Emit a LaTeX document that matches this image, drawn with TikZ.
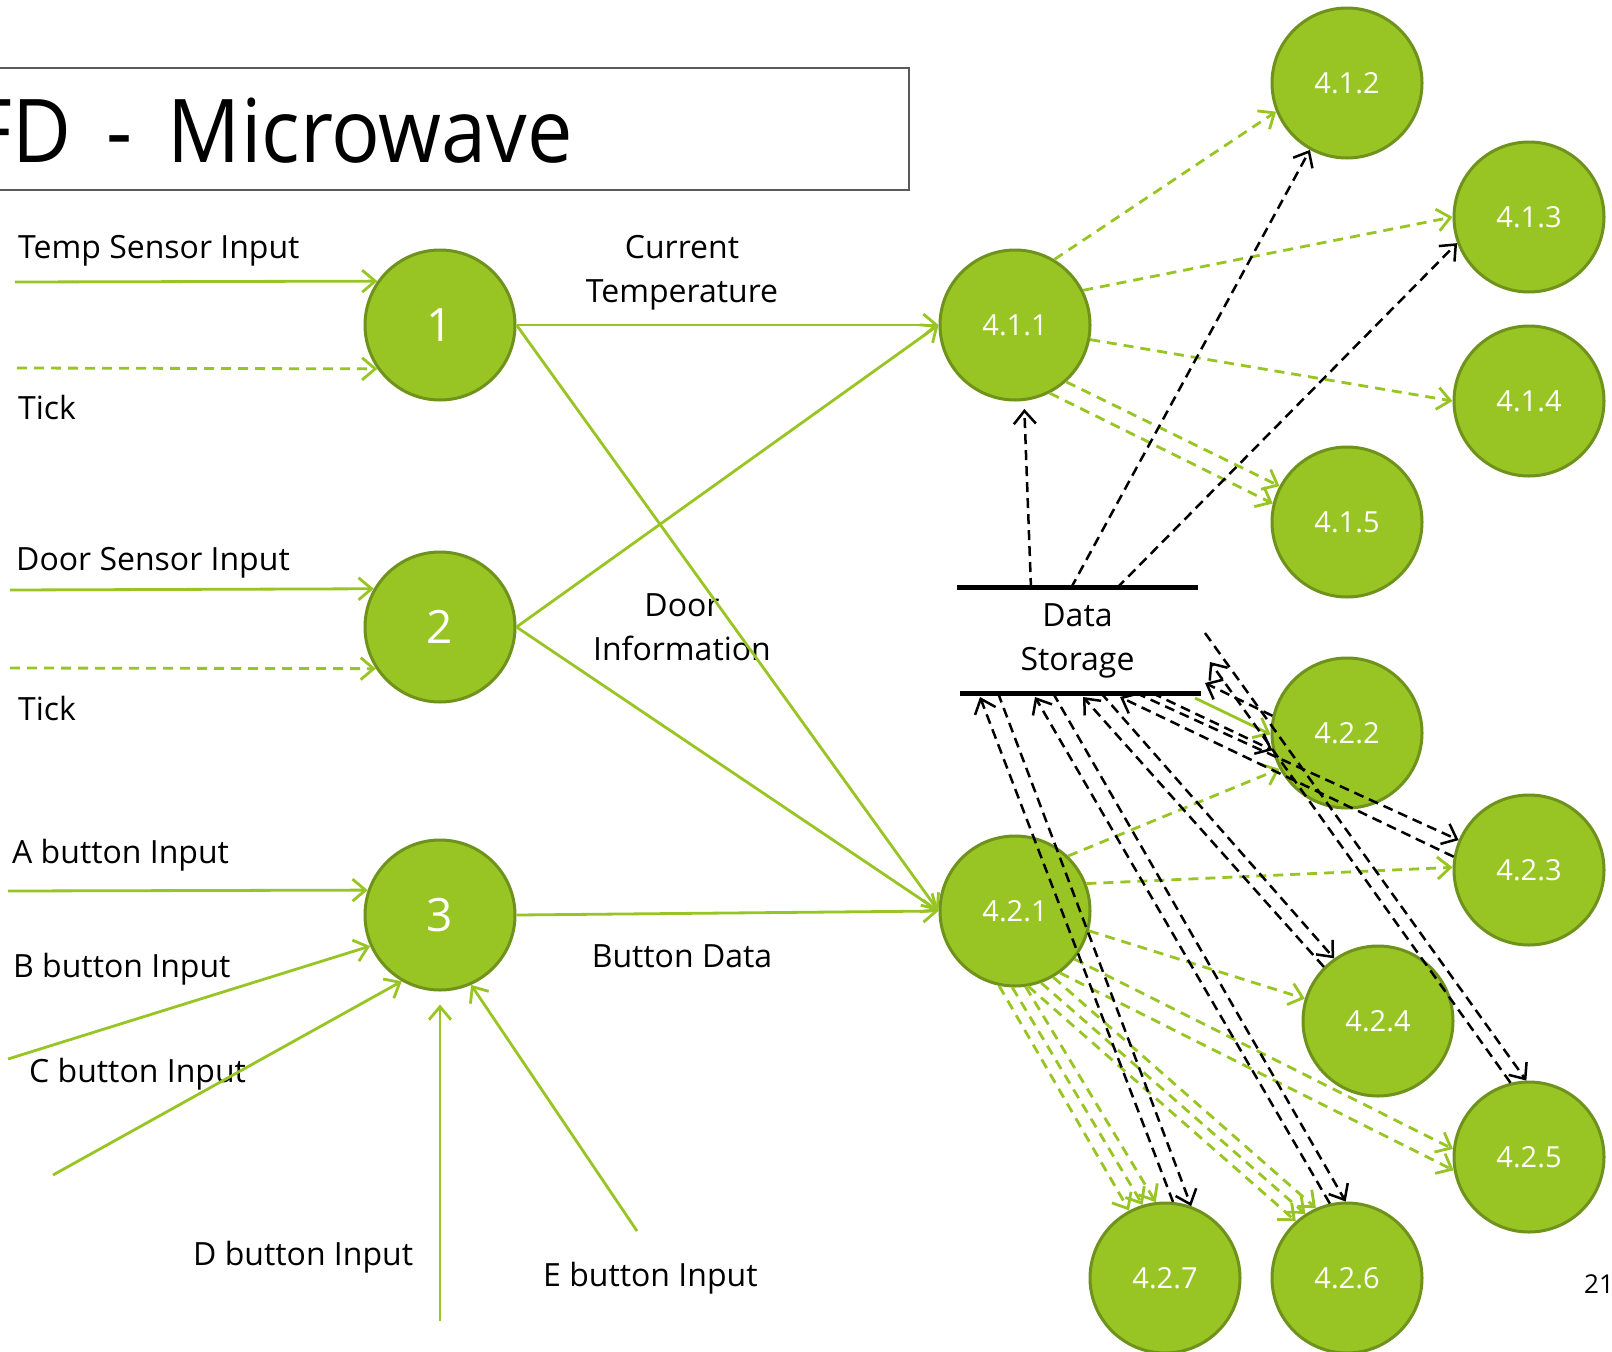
\documentclass[tikz,border=0pt]{standalone}
\usepackage{fontspec}
\setmainfont{Open Sans}
\newfontfamily\titlefont[FakeStretch=0.92]{Open Sans}
\usetikzlibrary{arrows.meta}
\definecolor{leaf}{RGB}{152,197,35}
\definecolor{leafdark}{RGB}{110,146,28}
\definecolor{framegray}{RGB}{90,90,90}
\begin{document}
\begin{tikzpicture}[x=1pt,y=-1pt,
  proc/.style={circle,draw=leafdark,fill=leaf,line width=3pt,minimum size=150pt,inner sep=0pt,text=white},
  numfont/.style={font=\fontsize{46}{50}\selectfont},
  subfont/.style={font=\fontsize{29}{34}\selectfont},
  lbl/.style={font=\fontsize{32}{44}\selectfont,text=black,inner sep=0pt},
  opentip/.style={-{Straight Barb[length=13pt,width=22pt]}},
  flow/.style={draw=leaf,line width=2.8pt,opentip},
  gdash/.style={flow,dash pattern=on 10pt off 7pt},
  bdash/.style={draw=black,line width=2.5pt,dash pattern=on 10pt off 6pt,opentip},
]
\fill[white] (0,0) rectangle (1612,1352);
\useasboundingbox (0,0) rectangle (1612,1352);

% title frame
\draw[framegray,line width=2pt] (-10,68) rectangle (909,190);
\node[anchor=base east,inner sep=0pt,font=\titlefont\fontsize{88}{100}\selectfont] (title) at (573,162)
  {\spaceskip=0.40em\relax DFD - Microwave};

% processes
\node[proc,numfont] (p1) at (440,325) {1};
\node[proc,numfont] (p2) at (440,627) {2};
\node[proc,numfont] (p3) at (440,915) {3};
\node[proc,subfont] (p411) at (1015,325) {4.1.1};
\node[proc,subfont] (p412) at (1347,83) {4.1.2};
\node[proc,subfont] (p413) at (1529,217) {4.1.3};
\node[proc,subfont] (p414) at (1529,401) {4.1.4};
\node[proc,subfont] (p415) at (1347,522) {4.1.5};
\node[proc,subfont] (p421) at (1015,911) {4.2.1};
\node[proc,subfont] (p422) at (1347,733) {4.2.2};
\node[proc,subfont] (p423) at (1529,870) {4.2.3};
\node[proc,subfont] (p424) at (1378,1021) {4.2.4};
\node[proc,subfont] (p425) at (1529,1157) {4.2.5};
\node[proc,subfont] (p426) at (1347,1278) {4.2.6};
\node[proc,subfont] (p427) at (1165,1278) {4.2.7};

% data store
\node[lbl,align=center,minimum width=241pt,minimum height=105pt] (ds) at (1077.5,640.5) {Data\\Storage};
\draw[line width=5pt] (ds.north west) -- (ds.north east);
\draw[line width=5pt] ([xshift=3pt]ds.south west) -- ([xshift=3pt]ds.south east);

% flow labels
\node[lbl,anchor=base west] (lTemp) at (18,258) {Temp Sensor Input};
\node[lbl,anchor=base west] (lTick1) at (18,419) {Tick};
\node[lbl,anchor=base west] (lDoor) at (16,570) {Door Sensor Input};
\node[lbl,anchor=base west] (lTick2) at (18,720) {Tick};
\node[lbl,anchor=base west] (lA) at (12,863) {A button Input};
\node[lbl,anchor=base west] (lB) at (13,977) {B button Input};
\node[lbl,anchor=base west] (lC) at (29,1082) {C button Input};
\node[lbl,anchor=base west] (lD) at (193,1265) {D button Input};
\node[lbl,anchor=base west] (lE) at (543,1286) {E button Input};
\node[lbl,align=center] (lCur) at (682,273) {Current\\Temperature};
\node[lbl,align=center] (lDI) at (682,627) {Door\\Information};
\node[lbl,anchor=base] (lBD) at (682,967) {Button Data};
\node[anchor=base west,inner sep=0pt,font=\fontsize{26}{30}\selectfont] (page) at (1584,1293) {21};

% external inputs
\coordinate (inTemp) at (15,282);
\coordinate (inTick1) at (17,368);
\coordinate (inDoor) at (10,590);
\coordinate (inTick2) at (10,668);
\coordinate (inA) at (8,891);
\coordinate (inB) at (8,1059);
\coordinate (inC) at (53,1175);
\coordinate (inD) at (440,1321);
\coordinate (inE) at (637,1231);
\draw[flow] (inTemp) -- (p1.145);
\draw[gdash] (inTick1) -- (p1.215);
\draw[flow] (inDoor) -- (p2.150);
\draw[gdash] (inTick2) -- (p2.213);
\draw[flow] (inA) -- (p3.161);
\draw[flow] (inB) -- (p3.204);
\draw[flow] (inC) -- (p3.240);
\draw[flow] (inD) -- ([yshift=-13pt]p3.south);
\draw[flow] (inE) -- (p3.294);

% level-1 flows
\draw[flow] (p1.east) -- (p411.west);
\draw[flow] (p1.east) -- (p421.west);
\draw[flow] (p2.east) -- (p411.west);
\draw[flow] (p2.east) -- (p421.west);
\draw[flow] (p3.east) -- (p421.west);

% store attachment points
\coordinate (t1) at (1031,588);
\coordinate (t2) at (1071,588);
\coordinate (t3) at (1117,588);
\coordinate (b7in) at (980,697);
\coordinate (b7out) at (998,693);
\coordinate (b6in) at (1035,697);
\coordinate (b6out) at (1053,693);
\coordinate (b4in) at (1083,697);
\coordinate (b4out) at (1101,693);
\coordinate (b3in) at (1120,697);
\coordinate (b3out) at (1136,693);
\coordinate (b2out) at (1152,693);
\coordinate (b2in) at (1205,683);
\coordinate (b5in) at (1210,662);
\coordinate (b5out) at (1205,633);
\coordinate (g2) at (1195,698);

% 4.1.x subflows
\draw[gdash] (p411.59) -- (p412.202);
\draw[gdash] (p411.27) -- (p413.180);
\draw[gdash] (p411.349) -- (p414.180);
\draw[gdash] (p411.312) -- (p415.152);
\draw[gdash] (p411.297) -- (p415.166);
\draw[bdash] (t1) -- ([yshift=-8pt]p411.277);
\draw[bdash] (t2) -- (p412.241);
\draw[bdash] (t3) -- (p413.200);

% 4.2.x subflows
\draw[gdash] (p421.46) -- (p422.208);
\draw[gdash] (p421.21) -- (p423.178);
\draw[gdash] (p421.345) -- (p424.163);
\draw[gdash] (p421.321) -- (p425.174);
\draw[gdash] (p421.306) -- (p425.190);
\draw[gdash] (p421.280) -- (p426.132);
\draw[gdash] (p421.290) -- (p426.123);
\draw[gdash] (p421.300) -- (p426.114);
\draw[gdash] (p421.258) -- (p427.118);
\draw[gdash] (p421.268) -- (p427.107);
\draw[gdash] (p421.278) -- (p427.97);
\draw[flow] (g2) -- (p422.181);

% store reads and writes
\draw[bdash] (p427.84) -- (b7in);
\draw[bdash] (b7out) -- (p427.70);
\draw[bdash] (p426.103) -- (b6in);
\draw[bdash] (b6out) -- (p426.91);
\draw[bdash] (p424.135) -- (b4in);
\draw[bdash] (b4out) -- (p424.125);
\draw[bdash] (p425.104) -- (b5in);
\draw[bdash] (b5out) -- (p425.92);
\draw[bdash] (p423.170) -- (b3in);
\draw[bdash] (b3out) -- (p423.157);
\draw[bdash] (p422.167) -- (b2in);
\draw[bdash] (b2out) -- (p422.193);
\end{tikzpicture}
\end{document}
